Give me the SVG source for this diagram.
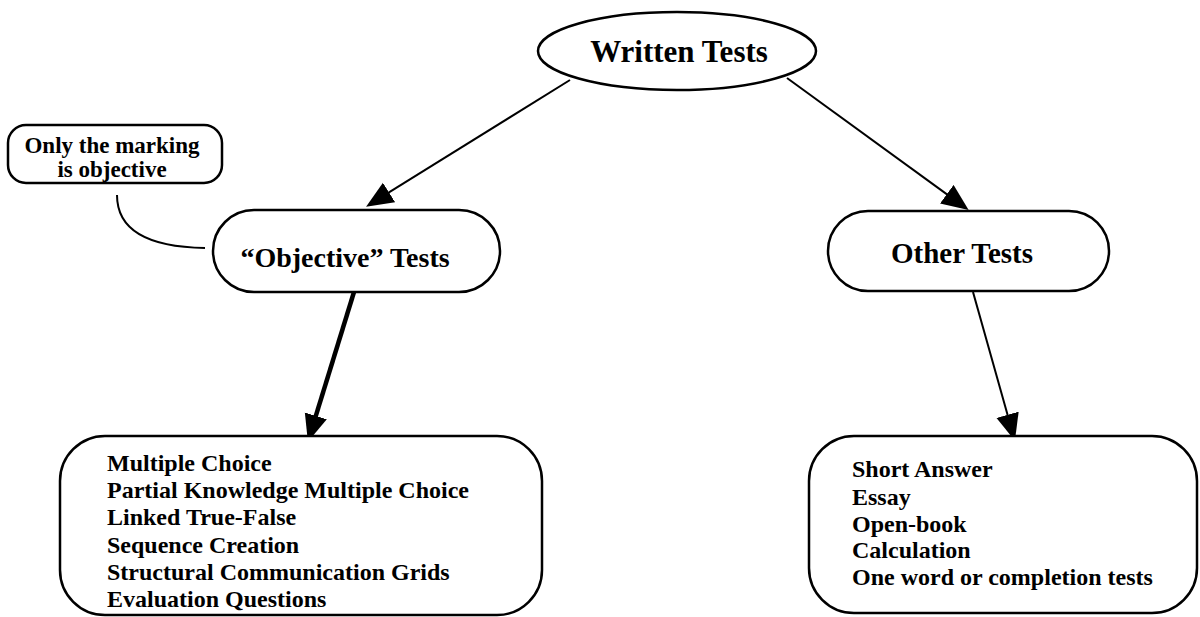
<svg xmlns="http://www.w3.org/2000/svg" width="1200" height="617" viewBox="0 0 1200 617">
<style>
  .shape { fill: #fff; stroke: #000; stroke-width: 2.5; }
  .t { font-family: "Liberation Serif", "Times New Roman", serif; font-weight: bold; fill: #000; }
  .edge { stroke: #000; stroke-width: 2; fill: none; }
  .thick { stroke-width: 4.5; }
</style>
<defs>
  <marker id="arrow" markerUnits="userSpaceOnUse" markerWidth="28" markerHeight="24" refX="10" refY="11.5" orient="auto">
    <path d="M0,0 L27,11.5 L0,23 Z" fill="#000"/>
  </marker>
</defs>
<rect width="1200" height="617" fill="#fff"/>
<g id="connectors">
  <line class="edge" x1="570" y1="80" x2="380.5" y2="197.7" marker-end="url(#arrow)"/>
  <line class="edge" x1="787" y1="78" x2="954.9" y2="200.1" marker-end="url(#arrow)"/>
  <line class="edge thick" x1="354" y1="292" x2="312.9" y2="425.4" marker-end="url(#arrow)"/>
  <line class="edge" x1="973" y1="292" x2="1010.3" y2="424.4" marker-end="url(#arrow)"/>
  <path class="edge" d="M117,195 C117,228 145,247 205,248"/>
</g>
<g id="written-tests">
  <ellipse class="shape" cx="677" cy="51" rx="139" ry="39"/>
  <text class="t" x="679" y="62" font-size="31" text-anchor="middle">Written Tests</text>
</g>
<g id="note">
  <rect class="shape" x="8" y="125" width="214" height="58" rx="18"/>
  <text class="t" x="112" y="153" font-size="23" text-anchor="middle">Only the marking</text>
  <text class="t" x="112" y="177" font-size="23" text-anchor="middle">is objective</text>
</g>
<g id="objective-tests">
  <rect class="shape" x="213" y="210" width="287" height="82" rx="41"/>
  <text class="t" x="345" y="267" font-size="28" text-anchor="middle">“Objective” Tests</text>
</g>
<g id="other-tests">
  <rect class="shape" x="828" y="211" width="281" height="80" rx="40"/>
  <text class="t" x="962" y="263" font-size="29" text-anchor="middle">Other Tests</text>
</g>
<g id="objective-list">
  <rect class="shape" x="60" y="436" width="482" height="179" rx="45"/>
  <text class="t" font-size="24">
    <tspan x="107" y="471">Multiple Choice</tspan>
    <tspan x="107" y="498">Partial Knowledge Multiple Choice</tspan>
    <tspan x="107" y="525">Linked True-False</tspan>
    <tspan x="107" y="553">Sequence Creation</tspan>
    <tspan x="107" y="580">Structural Communication Grids</tspan>
    <tspan x="107" y="607">Evaluation Questions</tspan>
  </text>
</g>
<g id="other-list">
  <rect class="shape" x="809" y="436" width="388" height="177" rx="45"/>
  <text class="t" font-size="24">
    <tspan x="852" y="477">Short Answer</tspan>
    <tspan x="852" y="505">Essay</tspan>
    <tspan x="852" y="532">Open-book</tspan>
    <tspan x="852" y="558">Calculation</tspan>
    <tspan x="852" y="585">One word or completion tests</tspan>
  </text>
</g>
</svg>
